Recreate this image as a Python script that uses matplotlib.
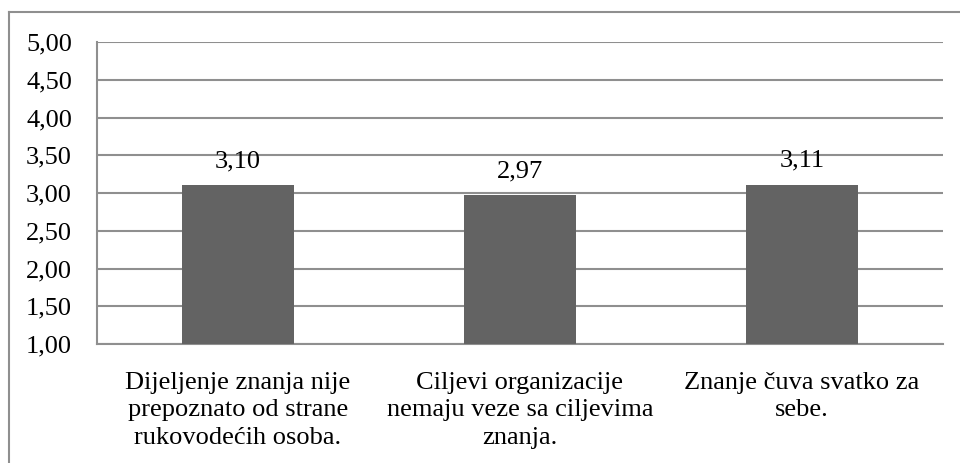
import matplotlib
matplotlib.use("Agg")
import matplotlib.pyplot as plt
from matplotlib.lines import Line2D
import numpy as np

categories = ["Dijeljenje znanja nije\nprepoznato od strane\nrukovodećih osoba.",
              "Ciljevi organizacije\nnemaju veze sa ciljevima\nznanja.",
              "Znanje čuva svatko za\nsebe."]
values = [3.10, 2.97, 3.11]
yticks = [1.0, 1.5, 2.0, 2.5, 3.0, 3.5, 4.0, 4.5, 5.0]

plt.rcParams['font.family'] = ['Liberation Serif', 'DejaVu Serif']

fig = plt.figure(figsize=(9.6, 4.63), dpi=100)
ax = fig.add_axes([97/960, 1-344/463, (943-97)/960, (344-42)/463])

x = np.arange(len(categories))
ax.bar(x, [v - 1.0 for v in values], bottom=1.0, width=0.4, color='#636363', zorder=3)
for xi, v in zip(x, values):
    ax.text(xi, v + 0.24, f"{v:.2f}".replace('.', ','), ha='center', va='baseline',
            fontsize=19, color='black', zorder=4)

ax.set_xlim(-0.5, len(categories) - 0.5)
ax.set_ylim(1.0, 5.0)
ax.set_yticks(yticks)
ax.set_yticklabels([f"{t:.2f}".replace('.', ',') for t in yticks], fontsize=19)
ax.set_xticks(x)
ax.set_xticklabels(categories, fontsize=19, linespacing=1.32)
ax.tick_params(axis='both', length=0)
ax.tick_params(axis='y', pad=18)
ax.tick_params(axis='x', pad=20)
ax.grid(axis='y', color='#8f8f8f', linewidth=1.5, zorder=0)
for s in ['top', 'right']:
    ax.spines[s].set_visible(False)
ax.spines['left'].set_color('#8f8f8f')
ax.spines['left'].set_linewidth(1.5)
ax.spines['bottom'].set_color('#8f8f8f')
ax.spines['bottom'].set_linewidth(1.5)

# figure border (top and left)
fig.add_artist(Line2D([9/960, 1.0], [1-12/463, 1-12/463], transform=fig.transFigure, color='#8f8f8f', linewidth=1.5))
fig.add_artist(Line2D([9/960, 9/960], [1-12/463, 0.0], transform=fig.transFigure, color='#8f8f8f', linewidth=1.5))

fig.savefig("out.png", dpi=100)
